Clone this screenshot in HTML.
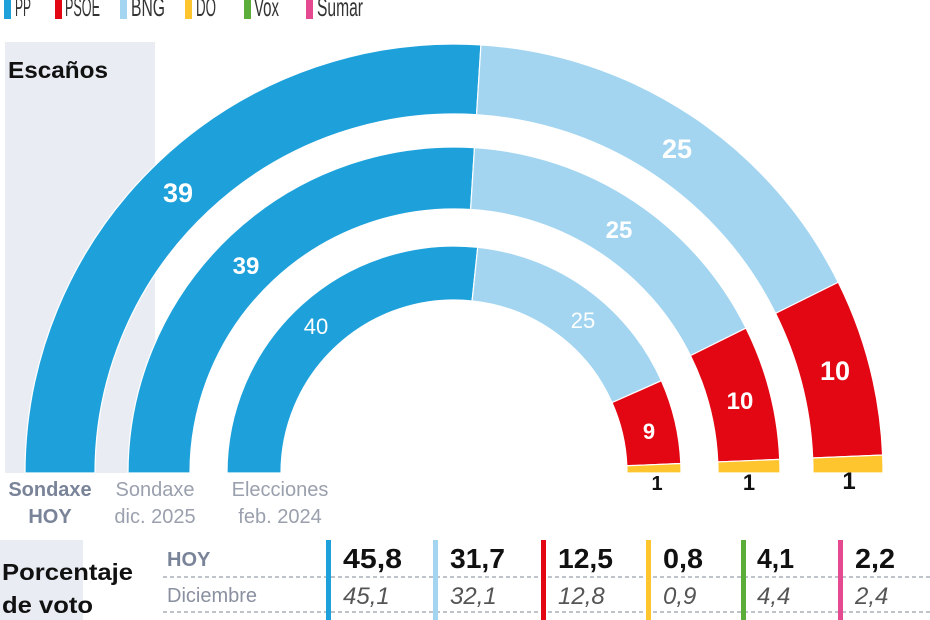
<!DOCTYPE html>
<html><head><meta charset="utf-8"><style>
html,body{margin:0;padding:0;background:#fff;}
body{width:930px;height:620px;overflow:hidden;position:relative;font-family:"Liberation Sans",sans-serif;}
svg{position:absolute;left:0;top:0;}
</style></head><body>
<svg id="s" width="930" height="620" viewBox="0 0 930 620" xmlns="http://www.w3.org/2000/svg" font-family="Liberation Sans, sans-serif">
<rect x="5" y="42" width="150" height="431" fill="#e9edf3"/>
<rect x="0" y="540" width="83" height="80" fill="#e9edf3"/>
<g font-size="26" fill="#333">
<rect x="4" y="0" width="7" height="19" fill="#1ea1da"/><text x="15" y="16" textLength="16" lengthAdjust="spacingAndGlyphs">PP</text>
<rect x="55" y="0" width="7" height="19" fill="#e30613"/><text x="65" y="16" textLength="35" lengthAdjust="spacingAndGlyphs">PSOE</text>
<rect x="120" y="0" width="7" height="19" fill="#a3d5f1"/><text x="131" y="16" textLength="34" lengthAdjust="spacingAndGlyphs">BNG</text>
<rect x="185" y="0" width="7" height="19" fill="#fec52e"/><text x="196" y="16" textLength="20" lengthAdjust="spacingAndGlyphs">DO</text>
<rect x="244" y="0" width="7" height="19" fill="#5cae3a"/><text x="254" y="16" textLength="25" lengthAdjust="spacingAndGlyphs">Vox</text>
<rect x="306" y="0" width="7" height="19" fill="#e5498f"/><text x="317" y="16" textLength="46" lengthAdjust="spacingAndGlyphs">Sumar</text>
</g>
<text x="8" y="78" font-size="23" font-weight="bold" fill="#111" textLength="100" lengthAdjust="spacingAndGlyphs">Escaños</text>
<g id="arcs"></g>
<g font-weight="bold" fill="#fff" text-anchor="middle">
<text x="178" y="202" font-size="27">39</text>
<text x="677" y="158" font-size="27">25</text>
<text x="835" y="380" font-size="27">10</text>
<text x="246" y="274" font-size="24">39</text>
<text x="619" y="238" font-size="24">25</text>
<text x="740" y="409" font-size="24">10</text>
<text x="316" y="334" font-size="22" font-weight="normal">40</text>
<text x="583" y="328" font-size="22" font-weight="normal">25</text>
<text x="649" y="439" font-size="22">9</text>
</g>
<g font-weight="bold" fill="#111" text-anchor="middle">
<text x="657" y="490" font-size="20">1</text>
<text x="749" y="490" font-size="22">1</text>
<text x="849" y="489" font-size="24">1</text>
</g>
<g font-size="20" text-anchor="middle">
<text x="50" y="496" fill="#7a8499" font-weight="bold">Sondaxe</text>
<text x="50" y="523" fill="#7a8499" font-weight="bold">HOY</text>
<text x="155" y="496" fill="#9aa0ad">Sondaxe</text>
<text x="155" y="523" fill="#9aa0ad">dic. 2025</text>
<text x="280" y="496" fill="#9aa0ad">Elecciones</text>
<text x="280" y="523" fill="#9aa0ad">feb. 2024</text>
</g>
<text x="2" y="580" font-size="23" font-weight="bold" fill="#111" textLength="131" lengthAdjust="spacingAndGlyphs">Porcentaje</text>
<text x="2" y="613" font-size="23" font-weight="bold" fill="#111" textLength="91" lengthAdjust="spacingAndGlyphs">de voto</text>
<line x1="163" y1="577" x2="930" y2="577" stroke="#aab0ba" stroke-width="1.5" stroke-dasharray="4,3"/>
<line x1="163" y1="612" x2="930" y2="612" stroke="#aab0ba" stroke-width="1.5" stroke-dasharray="4,3"/>
<text x="167" y="566" font-size="20" font-weight="bold" fill="#7a8499">HOY</text>
<text x="167" y="602" font-size="20" fill="#8a90a0">Diciembre</text>
<rect x="326" y="540" width="5" height="80" fill="#1ea1da"/>
<rect x="433" y="540" width="5" height="80" fill="#a3d5f1"/>
<rect x="541" y="540" width="5" height="80" fill="#e30613"/>
<rect x="646" y="540" width="5" height="80" fill="#fec52e"/>
<rect x="741" y="540" width="5" height="80" fill="#5cae3a"/>
<rect x="838" y="540" width="5" height="80" fill="#e5498f"/>
<g font-size="28" font-weight="bold" fill="#111">
<text x="343" y="568" textLength="59" lengthAdjust="spacingAndGlyphs">45,8</text><text x="450" y="568" textLength="55" lengthAdjust="spacingAndGlyphs">31,7</text><text x="558" y="568" textLength="55" lengthAdjust="spacingAndGlyphs">12,5</text>
<text x="663" y="568" textLength="40" lengthAdjust="spacingAndGlyphs">0,8</text><text x="757" y="568" textLength="37" lengthAdjust="spacingAndGlyphs">4,1</text><text x="855" y="568" textLength="40" lengthAdjust="spacingAndGlyphs">2,2</text>
</g>
<g font-size="24" font-style="italic" fill="#555">
<text x="343" y="604">45,1</text><text x="450" y="604">32,1</text><text x="558" y="604">12,8</text>
<text x="663" y="604">0,9</text><text x="757" y="604">4,4</text><text x="855" y="604">2,4</text>
</g>
</svg>
<script>
(function(){
var cx=454,cy=473,cols=["#1ea1da","#a3d5f1","#e30613","#fec52e"];
var rings=[[429,359,[39,25,10,1]],[326,264,[39,25,10,1]],[227,173,[40,25,9,1]]];
var g=document.getElementById("arcs"),ns="http://www.w3.org/2000/svg";
function pt(r,t){t=t*Math.PI/180;return (cx+r*Math.cos(t)).toFixed(2)+","+(cy-r*Math.sin(t)).toFixed(2);}
rings.forEach(function(R){
var ro=R[0],ri=R[1],s=R[2],tot=0,c=0;s.forEach(function(v){tot+=v;});
s.forEach(function(v,i){
var t1=180-c/tot*180;c+=v;var t2=180-c/tot*180;
var lg=(t1-t2)>180?1:0;
var d="M"+pt(ro,t1)+" A"+ro+","+ro+" 0 "+lg+" 1 "+pt(ro,t2)+" L"+pt(ri,t2)+" A"+ri+","+ri+" 0 "+lg+" 0 "+pt(ri,t1)+" Z";
var p=document.createElementNS(ns,"path");p.setAttribute("d",d);p.setAttribute("fill",cols[i]);
p.setAttribute("stroke","#fff");p.setAttribute("stroke-width","1.2");g.appendChild(p);
});
});
})();
</script>
</body></html>
